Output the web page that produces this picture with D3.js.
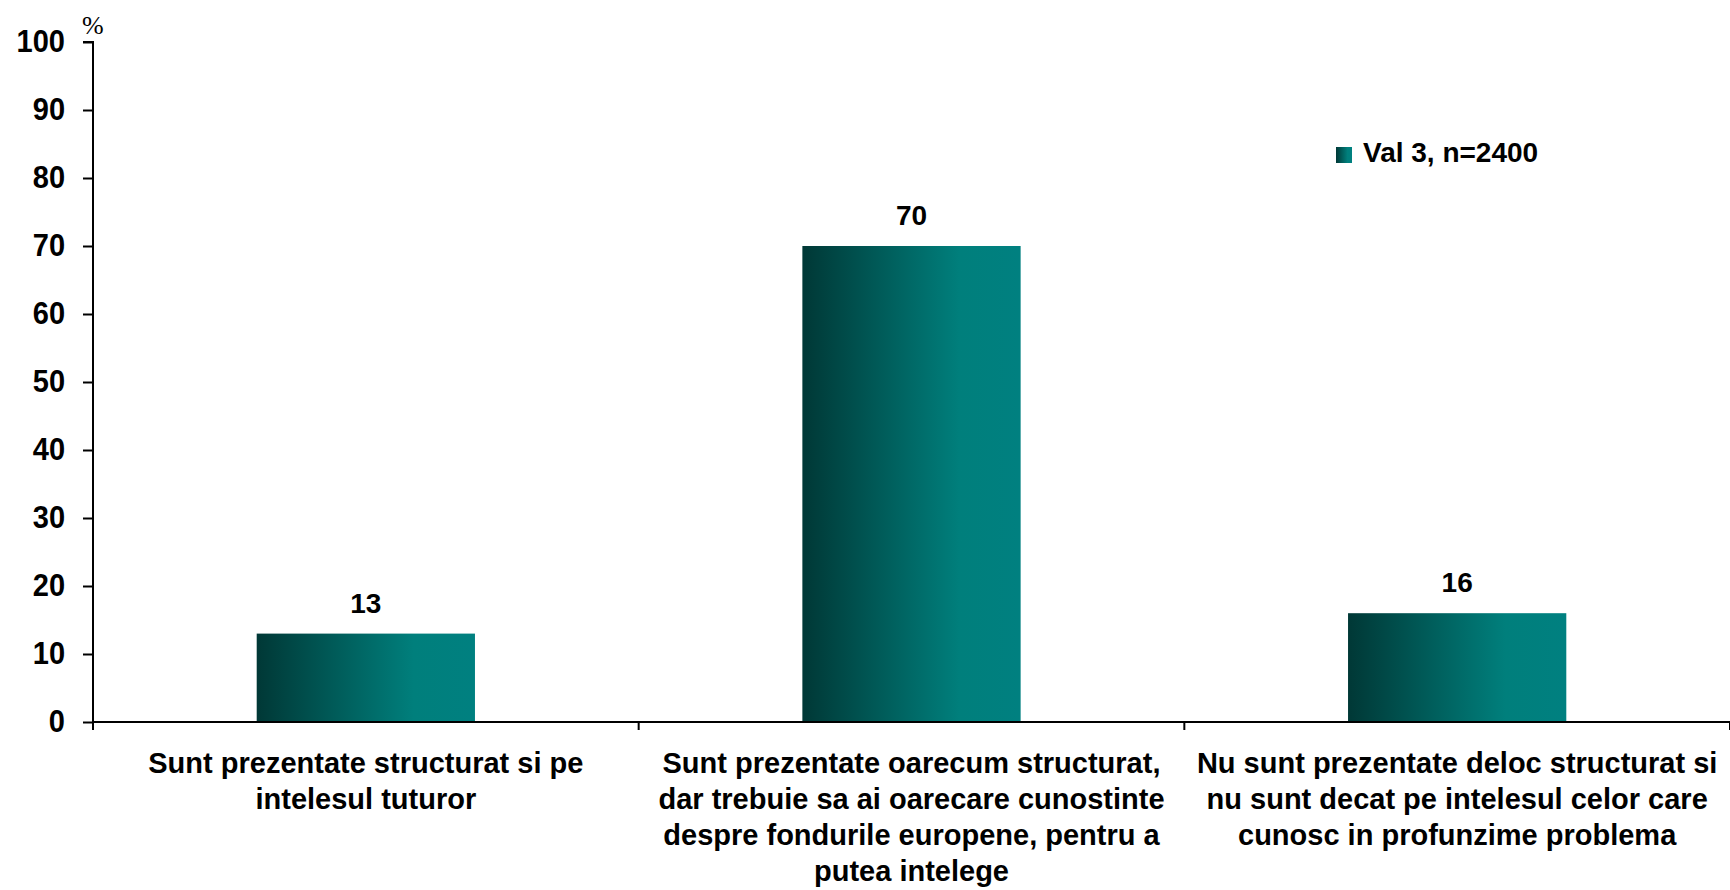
<!DOCTYPE html>
<html>
<head>
<meta charset="utf-8">
<script src="https://cdn.jsdelivr.net/npm/d3@7"></script>
<style>
  html, body { margin: 0; padding: 0; background: #ffffff; }
  svg { display: block; }
  text { font-family: "Liberation Sans", Arial, sans-serif; font-weight: bold; fill: #000; }
</style>
</head>
<body>
<svg id="chart" width="1730" height="890"></svg>
<script>
// ---- data ----
const categories = ["c1", "c2", "c3"];
const categoryLines = [
  ["Sunt prezentate structurat si pe", "intelesul tuturor"],
  ["Sunt prezentate oarecum structurat,", "dar trebuie sa ai oarecare cunostinte", "despre fondurile europene, pentru a", "putea intelege"],
  ["Nu sunt prezentate deloc structurat si", "nu sunt decat pe intelesul celor care", "cunosc in profunzime problema"]
];
const values = [13, 70, 16];
const seriesName = "Val 3, n=2400";
const yTicks = [0, 10, 20, 30, 40, 50, 60, 70, 80, 90, 100];
const unitLabel = "%";

// ---- layout ----
const svg = d3.select("#chart");
const pLeft = 93, pRight = 1730, pTop = 42, pBottom = 722;

const x = d3.scaleBand().domain(categories).range([pLeft, pRight]).paddingInner(0.6).paddingOuter(0.3);
const y = d3.scaleLinear().domain([0, 100]).range([pBottom, pTop]);

// gradient
const defs = svg.append("defs");
const grad = defs.append("linearGradient").attr("id", "barGrad").attr("x1", "0%").attr("x2", "100%").attr("y1", "0%").attr("y2", "0%");
grad.append("stop").attr("offset", "0%").attr("stop-color", "#003836");
grad.append("stop").attr("offset", "72%").attr("stop-color", "#007f7c");
grad.append("stop").attr("offset", "100%").attr("stop-color", "#008080");

// bars
svg.selectAll("rect.bar").data(values).enter().append("rect")
  .attr("class", "bar")
  .attr("x", (d, i) => x(categories[i]))
  .attr("width", x.bandwidth())
  .attr("y", d => y(d))
  .attr("height", d => y(0) - y(d))
  .attr("fill", "url(#barGrad)");

// value labels
svg.selectAll("text.val").data(values).enter().append("text")
  .attr("class", "val")
  .attr("x", (d, i) => x(categories[i]) + x.bandwidth() / 2)
  .attr("y", d => y(d) - 21)
  .attr("text-anchor", "middle")
  .style("font-size", "28px")
  .text(d => d);

// y axis
const yAxis = d3.axisLeft(y).tickValues(yTicks).tickSize(10).tickPadding(18).tickFormat(d3.format("d"));
const gy = svg.append("g").attr("transform", `translate(${pLeft},0)`).call(yAxis);
gy.select(".domain").attr("stroke", "#000").attr("stroke-width", 2).attr("d", `M-10,${pTop}H0V${pBottom + 6}`);
gy.selectAll(".tick line").attr("stroke", "#000").attr("stroke-width", 2);
gy.selectAll(".tick text").style("font-size", "29px").style("font-family", '"Liberation Sans", Arial, sans-serif').style("font-weight", "bold").attr("fill", "#000")
  .attr("transform", "scale(1,1.06)");

// x axis line + boundary ticks
const gap = x.step() - x.bandwidth();
const boundaries = categories.map(c => x(c) - gap / 2).concat([pRight]);
svg.append("line").attr("x1", pLeft).attr("x2", pRight).attr("y1", pBottom).attr("y2", pBottom).attr("stroke", "#000").attr("stroke-width", 2);
svg.selectAll("line.xt").data(boundaries).enter().append("line")
  .attr("class", "xt")
  .attr("x1", d => d).attr("x2", d => d)
  .attr("y1", pBottom).attr("y2", pBottom + 8)
  .attr("stroke", "#000").attr("stroke-width", 2);

// category labels
categories.forEach((c, i) => {
  const t = svg.append("text")
    .attr("text-anchor", "middle")
    .attr("x", x(c) + x.bandwidth() / 2)
    .attr("y", 773)
    .style("font-size", "29px");
  categoryLines[i].forEach((ln, j) => {
    t.append("tspan").attr("x", x(c) + x.bandwidth() / 2).attr("y", 773 + j * 36).text(ln);
  });
});

// unit label
svg.append("text").attr("x", 82).attr("y", 34)
  .style("font-family", '"Liberation Serif", "Times New Roman", serif')
  .style("font-weight", "normal")
  .style("font-size", "26px")
  .text(unitLabel);

// legend
const lg = svg.append("g").attr("transform", "translate(1336,147)");
lg.append("rect").attr("width", 16).attr("height", 16).attr("fill", "url(#barGrad)");
lg.append("text").attr("x", 27).attr("y", 15).style("font-size", "28px").text(seriesName);
</script>
</body>
</html>
